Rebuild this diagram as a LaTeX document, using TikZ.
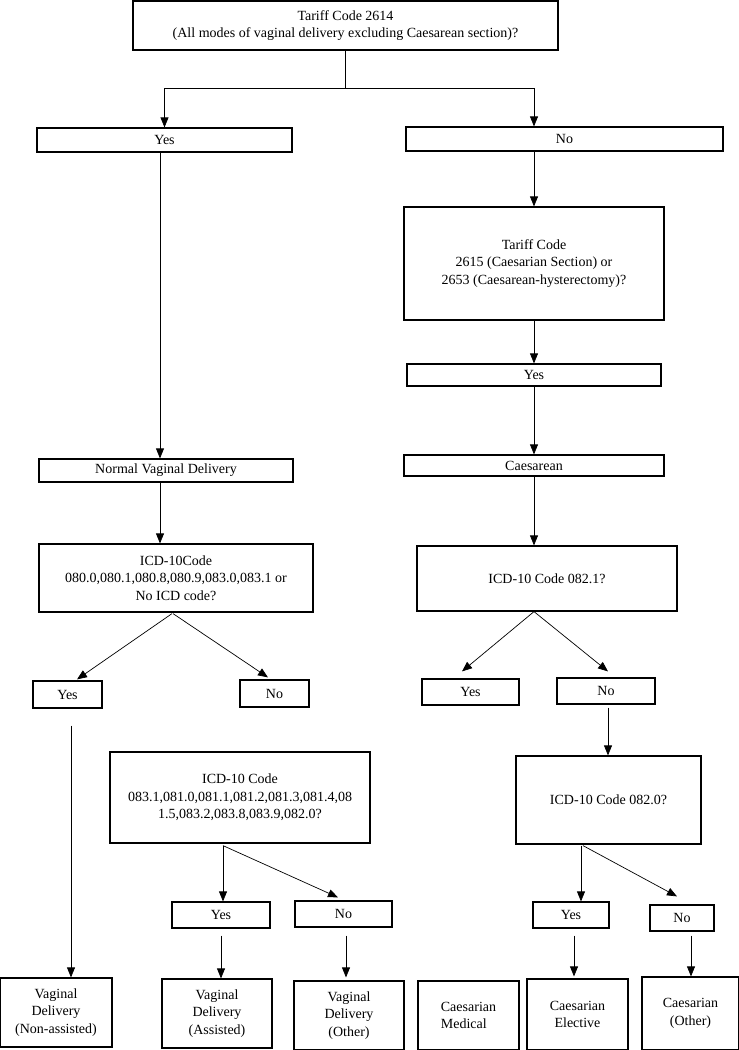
\documentclass[tikz,border=0pt]{standalone}
\usepackage{fontspec}
\setmainfont{Liberation Serif}
\usetikzlibrary{arrows.meta}
\begin{document}
\begin{tikzpicture}[x=1pt,y=-1pt,
  box/.style={draw,line width=1.2pt,inner sep=2pt,align=center,
    font=\fontsize{14}{17.5}\selectfont},
  arr/.style={line width=0.7pt,-{Triangle[length=10pt,width=8pt]}}]
\useasboundingbox (0,0) rectangle (739,1050);
% nodes
\node[box,minimum width=425pt,minimum height=49pt] (top) at (345.5,25.5)
  {Tariff Code 2614\\(All modes of vaginal delivery excluding Caesarean section)?};
\node[box,minimum width=255pt,minimum height=24pt] (yes1) at (164.5,140) {Yes};
\node[box,minimum width=317pt,minimum height=24pt] (no1) at (564.5,139) {No};
\node[box,minimum width=260pt,minimum height=113pt] (tc) at (534,263.5)
  {Tariff Code\\2615 (Caesarian Section) or\\2653 (Caesarean-hysterectomy)?};
\node[box,minimum width=254pt,minimum height=22pt] (yes2) at (534,375) {Yes};
\node[box,minimum width=260pt,minimum height=21pt] (caes) at (534,465.5) {Caesarean};
\node[box,minimum width=260pt,minimum height=65pt] (icdc) at (547,578.5) {ICD-10 Code 082.1?};
\node[box,minimum width=97pt,minimum height=26pt] (yes3) at (470.5,692) {Yes};
\node[box,minimum width=98pt,minimum height=26pt] (no3) at (606,691) {No};
\node[box,minimum width=254pt,minimum height=23pt] (nvd) at (166,470.5) {Normal Vaginal Delivery};
\node[box,minimum width=274pt,minimum height=68pt] (icda) at (176,578)
  {ICD-10Code\\080.0,080.1,080.8,080.9,083.0,083.1 or\\No ICD code?};
\node[box,minimum width=69pt,minimum height=27pt] (yesa) at (67.5,694.5) {Yes};
\node[box,minimum width=69pt,minimum height=27pt] (noa) at (274.5,693.5) {No};
\node[box,minimum width=260pt,minimum height=91pt] (icdb) at (240,797.5)
  {ICD-10 Code\\083.1,081.0,081.1,081.2,081.3,081.4,08\\1.5,083.2,083.8,083.9,082.0?};
\node[box,minimum width=98pt,minimum height=26pt] (yesb) at (221,915) {Yes};
\node[box,minimum width=97pt,minimum height=26pt] (nob) at (343.5,914) {No};
\node[box,minimum width=185pt,minimum height=88pt] (icdd) at (608.5,800) {ICD-10 Code 082.0?};
\node[box,minimum width=76pt,minimum height=26pt] (yesc) at (571,915) {Yes};
\node[box,minimum width=64pt,minimum height=26pt] (noc) at (682,918) {No};
\node[box,minimum width=112pt,minimum height=69pt] (vdna) at (56,1012.5)
  {Vaginal\\Delivery\\(Non-assisted)};
\node[box,minimum width=110pt,minimum height=69pt] (vda) at (217,1013.5)
  {Vaginal\\Delivery\\(Assisted)};
\node[box,minimum width=110pt,minimum height=69pt] (vdo) at (349,1015.5)
  {Vaginal\\Delivery\\(Other)};
\node[box,minimum width=101pt,minimum height=69pt,align=left] (cmed) at (468.5,1015.5)
  {Caesarian\\Medical};
\node[box,minimum width=101pt,minimum height=71pt] (cel) at (577.5,1014.5)
  {Caesarian\\Elective};
\node[box,minimum width=97pt,minimum height=73pt] (coth) at (690.5,1013.5)
  {Caesarian\\(Other)};
% connectors
\draw[arr] (top.south) -- ++(0,38) -| (yes1.north);
\draw[arr] (top.south) -- ++(0,38) -| (no1.north -| tc.north);
\draw[arr] (no1.south -| tc.north) -- (tc.north);
\draw[arr] (tc.south) -- (yes2.north);
\draw[arr] (yes2.south) -- (caes.north);
\draw[arr] (caes.south) -- (caes.south |- icdc.north);
\draw[arr] (caes.south |- icdc.south) -- ([xshift=-8.5pt,yshift=7pt]yes3.north);
\draw[arr] (caes.south |- icdc.south) -- ([xshift=2pt,yshift=6pt]no3.north);
\draw[arr] ([xshift=2pt,yshift=-3pt]no3.south) -- ([xshift=-0.5pt]icdd.north);
\draw[arr] ([xshift=-27.5pt,yshift=-1pt]icdd.south) -- ([xshift=10pt]yesc.north);
\draw[arr] ([xshift=-25.5pt,yshift=-1pt]icdd.south) -- ([xshift=-5pt,yshift=8pt]noc.north);
\draw[arr] ([xshift=3pt,yshift=-7pt]yesc.south) -- ([xshift=-3.5pt,yshift=2pt]cel.north);
\draw[arr] ([xshift=9pt,yshift=-4pt]noc.south) -- ([xshift=0.5pt]coth.north);
\draw[arr] ([xshift=-4.5pt]yes1.south) -- ([xshift=-6pt]nvd.north);
\draw[arr] ([xshift=-6pt]nvd.south) -- ([xshift=-16pt]icda.north);
\draw[arr] ([xshift=-4pt,yshift=-1pt]icda.south) -- ([xshift=9.5pt,yshift=1pt]yesa.north);
\draw[arr] ([xshift=-3pt,yshift=-1pt]icda.south) -- ([xshift=-6.5pt,yshift=2pt]noa.north);
\draw[arr] ([xshift=3.5pt,yshift=-17pt]yesa.south) -- ([xshift=15pt]vdna.north);
\draw[arr] ([xshift=-17pt,yshift=-2pt]icdb.south) -- ([xshift=2pt]yesb.north);
\draw[arr] ([xshift=-17pt,yshift=-2pt]icdb.south) -- ([xshift=-5.5pt,yshift=3pt]nob.north);
\draw[arr] ([yshift=-7pt]yesb.south) -- ([xshift=4pt]vda.north);
\draw[arr] ([xshift=2.5pt,yshift=-8pt]nob.south) -- ([xshift=-3pt,yshift=3pt]vdo.north);
\end{tikzpicture}
\end{document}
